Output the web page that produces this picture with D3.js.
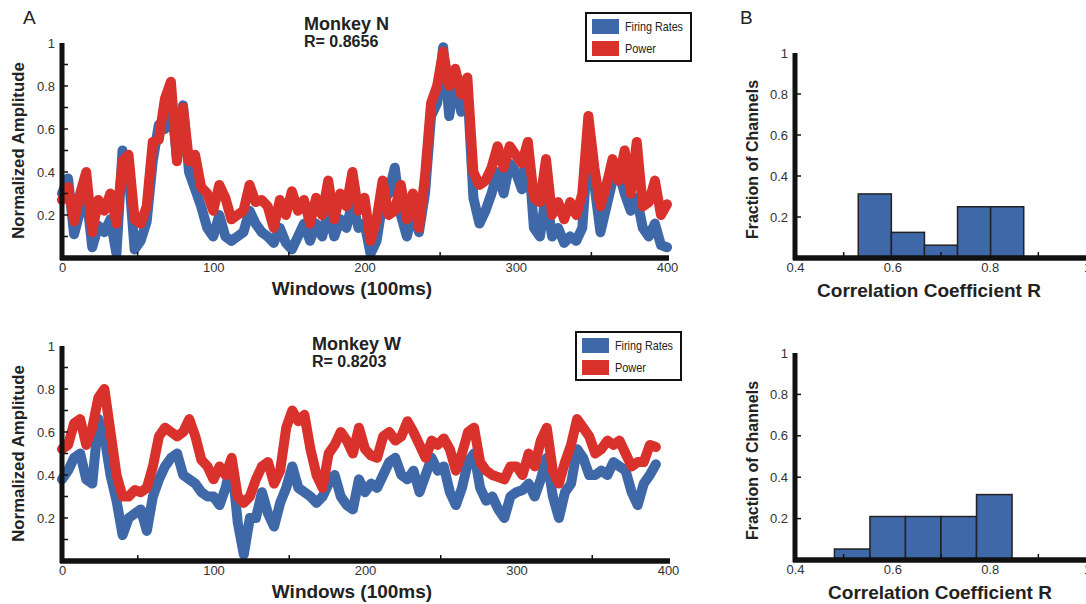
<!DOCTYPE html>
<html>
<head>
<meta charset="utf-8">
<script src="https://cdn.jsdelivr.net/npm/d3@7"></script>
<style>
body { margin: 0; background: #fff; }
svg { font-family: "Liberation Sans", Arial, sans-serif; }
</style>
</head>
<body>
<svg width="1086" height="604"></svg>
<script>
var svg = d3.select("svg");

// ---- data ----
var windowsN = d3.range(0, 401, 4);
var firingN = [.30,.37,.11,.22,.30,.05,.15,.12,.18,.02,
    .50,.40,.04,.08,.17,.45,.62,.60,.75,.46,
    .71,.40,.32,.24,.14,.10,.20,.10,.08,.10,
    .12,.22,.16,.12,.10,.07,.14,.07,.04,.10,
    .16,.08,.16,.10,.22,.10,.18,.14,.26,.14,
    .16,.02,.08,.26,.30,.42,.20,.10,.22,.12,
    .30,.66,.72,.98,.66,.84,.68,.80,.28,.16,
    .22,.30,.40,.30,.44,.40,.32,.52,.14,.10,
    .30,.10,.14,.07,.10,.08,.14,.54,.34,.12,
    .24,.36,.40,.30,.22,.28,.14,.10,.16,.06,
    .05];
var powerN = [.27,.33,.17,.30,.40,.12,.27,.22,.30,.16,
    .45,.48,.18,.16,.24,.54,.55,.74,.82,.45,
    .70,.45,.48,.33,.30,.22,.34,.28,.18,.20,
    .22,.34,.26,.27,.24,.14,.27,.20,.31,.22,
    .27,.16,.28,.20,.36,.18,.30,.24,.40,.22,
    .28,.08,.18,.36,.20,.22,.34,.18,.30,.14,
    .38,.72,.80,.96,.80,.88,.76,.84,.40,.34,
    .36,.42,.52,.42,.52,.48,.44,.54,.28,.26,
    .46,.20,.26,.18,.26,.20,.30,.66,.42,.24,
    .34,.46,.36,.50,.30,.54,.24,.26,.36,.20,
    .25];

var windowsW = d3.range(0, 393, 4);
var firingW = [.38,.42,.48,.50,.38,.36,.66,.58,.40,.28,
    .12,.20,.22,.24,.14,.30,.38,.44,.48,.50,
    .40,.38,.36,.32,.30,.30,.26,.34,.46,.18,
    .03,.20,.20,.32,.22,.16,.27,.34,.44,.34,
    .32,.30,.27,.30,.36,.40,.30,.26,.24,.38,
    .32,.36,.34,.40,.46,.48,.40,.38,.42,.32,
    .40,.48,.42,.44,.32,.26,.34,.46,.50,.34,
    .28,.30,.24,.20,.30,.32,.33,.36,.30,.38,
    .48,.30,.20,.32,.36,.52,.48,.40,.40,.42,
    .40,.46,.44,.42,.32,.26,.36,.40,.45];
var powerW = [.52,.54,.64,.66,.54,.62,.76,.80,.60,.40,
    .30,.30,.33,.32,.34,.44,.58,.62,.60,.58,
    .60,.66,.58,.47,.44,.38,.44,.40,.48,.30,
    .27,.30,.38,.44,.46,.36,.42,.62,.70,.65,
    .68,.52,.40,.34,.50,.54,.60,.56,.50,.62,
    .52,.49,.48,.58,.60,.56,.58,.65,.60,.54,
    .48,.56,.54,.57,.52,.42,.50,.60,.62,.46,
    .42,.40,.39,.38,.44,.44,.40,.50,.44,.56,
    .62,.42,.36,.46,.54,.66,.62,.58,.50,.52,
    .56,.54,.56,.50,.44,.46,.46,.54,.53];

// histogram bins (edges) and fraction of channels
var binEdgesN = [0.530, 0.598, 0.666, 0.734, 0.802, 0.870];
var fractionN = [0.3125, 0.125, 0.0625, 0.25, 0.25];
var binEdgesW = [0.481, 0.554, 0.627, 0.700, 0.773, 0.846];
var fractionW = [0.053, 0.21, 0.21, 0.21, 0.316];

var seriesNames = ["Firing Rates", "Power"];
var lineTicksY = [0.2, 0.4, 0.6, 0.8, 1];
var lineTicksX = [0, 100, 200, 300, 400];
var histTicksX = [0.4, 0.6, 0.8, 1];

var blue = "#3e68a8";
var red = "#d9322d";
var tickColor = "#333";

// thick matlab-like axes
var draw_axes = function(g, x, y, xTicks, xMinor, yTicks, yMinor, xFmt) {
    var x0 = x.range()[0], x1 = x.range()[1];
    var y0 = y.range()[0], y1 = y.range()[1];

    g.selectAll(".minorY").data(yMinor).enter().append("line")
        .attr("x1", x0).attr("x2", x0 + 6)
        .attr("y1", function(d) { return y(d); })
        .attr("y2", function(d) { return y(d); })
        .attr("stroke", "#111").attr("stroke-width", 1.5);
    g.selectAll(".minorX").data(xMinor).enter().append("line")
        .attr("x1", function(d) { return x(d); })
        .attr("x2", function(d) { return x(d); })
        .attr("y1", y0).attr("y2", y0 - 6)
        .attr("stroke", "#111").attr("stroke-width", 1.5);

    g.append("line").attr("x1", x0).attr("x2", x0)
        .attr("y1", y1).attr("y2", y0 + 2)
        .attr("stroke", "#111").attr("stroke-width", 5);
    g.append("line").attr("x1", x0 - 2).attr("x2", x1 + 2)
        .attr("y1", y0).attr("y2", y0)
        .attr("stroke", "#111").attr("stroke-width", 5.5);

    var ya = g.append("g").attr("transform", "translate(" + (x0 - 4) + ",0)")
        .call(d3.axisLeft(y).tickValues(yTicks).tickSize(0).tickFormat(d3.format("~g")));
    ya.select(".domain").remove();
    ya.selectAll("text").attr("font-size", 13).attr("fill", tickColor)
        .attr("font-family", "Liberation Sans, Arial, sans-serif");

    var xa = g.append("g").attr("transform", "translate(0," + (y0 + 2) + ")")
        .call(d3.axisBottom(x).tickValues(xTicks).tickSize(0).tickFormat(xFmt));
    xa.select(".domain").remove();
    xa.selectAll("text").attr("font-size", 13).attr("fill", tickColor)
        .attr("font-family", "Liberation Sans, Arial, sans-serif");
};

var draw_legend = function(lx, ly) {
    var lg = svg.append("g").attr("transform", "translate(" + lx + "," + ly + ")");
    lg.append("rect").attr("width", 105).attr("height", 48)
        .attr("fill", "#fff").attr("stroke", "#111").attr("stroke-width", 2);
    lg.selectAll(".sw").data(seriesNames).enter().append("rect")
        .attr("x", 6).attr("y", function(d, i) { return 6 + i * 22; })
        .attr("width", 27).attr("height", 15)
        .attr("fill", function(d, i) { return i == 0 ? blue : red; });
    // condensed look: squeeze the glyphs to the width seen in the figure
    lg.selectAll(".lt").data(seriesNames).enter().append("text")
        .text(function(d) { return d; })
        .attr("x", 39).attr("y", function(d, i) { return 18 + i * 22; })
        .attr("font-size", 13).attr("fill", "#222")
        .attr("textLength", function(d, i) { return i == 0 ? 58 : 31; })
        .attr("lengthAdjust", "spacingAndGlyphs");
};

var plot_lines = function(win, firing, power, xr, yr, title, rtext, tx, ty) {
    var x = d3.scaleLinear().domain([0, 400]).range(xr);
    var y = d3.scaleLinear().domain([0, 1]).range(yr);
    var g = svg.append("g");

    var line = d3.line()
        .x(function(d) { return x(d[0]); })
        .y(function(d) { return y(d[1]); });

    g.append("path").datum(d3.zip(win, firing))
        .attr("d", line).attr("fill", "none").attr("stroke", blue)
        .attr("stroke-width", 10).attr("stroke-linejoin", "round").attr("stroke-linecap", "round");
    g.append("path").datum(d3.zip(win, power))
        .attr("d", line).attr("fill", "none").attr("stroke", red)
        .attr("stroke-width", 10).attr("stroke-linejoin", "round").attr("stroke-linecap", "round");

    draw_axes(g, x, y, lineTicksX, [50, 150, 250, 350],
        lineTicksY, [0.1, 0.2, 0.3, 0.4, 0.5, 0.6, 0.7, 0.8, 0.9], d3.format("d"));

    g.append("text").text("Normalized Amplitude")
        .attr("transform", "translate(24," + ((yr[0] + yr[1]) / 2) + ") rotate(-90)")
        .attr("text-anchor", "middle").attr("font-weight", "bold").attr("font-size", 16.8).attr("fill", "#222");
    g.append("text").text("Windows (100ms)")
        .attr("x", 352).attr("y", yr[0] + 37)
        .attr("text-anchor", "middle").attr("font-weight", "bold").attr("font-size", 19).attr("fill", "#222");

    g.append("text").text(title).attr("x", tx).attr("y", ty)
        .attr("font-weight", "bold").attr("font-size", 18).attr("fill", "#222");
    g.append("text").text(rtext).attr("x", tx).attr("y", ty + 17)
        .attr("font-weight", "bold").attr("font-size", 16).attr("fill", "#222");
};

var plot_hist = function(edges, fractions, yr, labelX) {
    var x = d3.scaleLinear().domain([0.4, 1]).range([795, 1087]);
    var y = d3.scaleLinear().domain([0, 1]).range(yr);
    var g = svg.append("g");
    var bins = fractions.map(function(f, i) { return { x0: edges[i], x1: edges[i + 1], f: f }; });

    g.selectAll("rect").data(bins).enter().append("rect")
        .attr("x", function(d) { return x(d.x0); })
        .attr("width", function(d) { return x(d.x1) - x(d.x0); })
        .attr("y", function(d) { return y(d.f); })
        .attr("height", function(d) { return y(0) - y(d.f); })
        .attr("fill", blue).attr("stroke", "#222").attr("stroke-width", 1.5);

    draw_axes(g, x, y, histTicksX, [0.5, 0.7, 0.9],
        lineTicksY, [0.2, 0.4, 0.6, 0.8], d3.format("~g"));

    g.append("text").text("Fraction of Channels")
        .attr("transform", "translate(758," + ((yr[0] + yr[1]) / 2 + 4) + ") rotate(-90)")
        .attr("text-anchor", "middle").attr("font-weight", "bold").attr("font-size", 16).attr("fill", "#222");
    g.append("text").text("Correlation Coefficient R")
        .attr("x", labelX).attr("y", yr[0] + 39)
        .attr("text-anchor", "middle").attr("font-weight", "bold").attr("font-size", 19).attr("fill", "#222");
};

plot_lines(windowsN, firingN, powerN, [62, 667], [258, 43], "Monkey N", "R= 0.8656", 304, 30);
plot_lines(windowsW, firingW, powerW, [62, 668], [561, 346], "Monkey W", "R= 0.8203", 312, 350);
draw_legend(586, 13);
draw_legend(576, 332);
plot_hist(binEdgesN, fractionN, [258, 53], 929);
plot_hist(binEdgesW, fractionW, [560, 353], 940);

svg.append("text").text("A").attr("x", 23).attr("y", 24).attr("font-size", 19).attr("fill", "#222");
svg.append("text").text("B").attr("x", 740).attr("y", 24).attr("font-size", 19).attr("fill", "#222");
</script>
</body>
</html>
